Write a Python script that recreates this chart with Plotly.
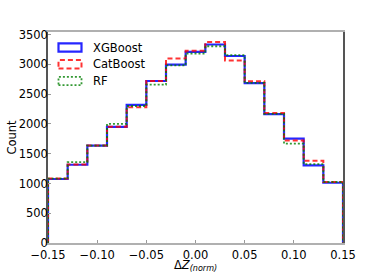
import numpy as np
import plotly.graph_objects as go

# ---- data ----
bin_edges = np.round(np.linspace(-0.15, 0.15, 16), 4)
series_names = ["XGBoost", "CatBoost", "RF"]
xgboost_counts = [1075, 1315, 1635, 1950, 2320, 2722, 2998, 3210, 3335, 3142, 2685, 2166, 1752, 1305, 1012]
catboost_counts = [1082, 1320, 1640, 1952, 2282, 2722, 3100, 3232, 3375, 3066, 2718, 2185, 1722, 1382, 1025]
rf_counts = [1080, 1358, 1636, 2000, 2302, 2660, 2985, 3184, 3306, 3156, 2690, 2170, 1670, 1325, 1025]
y_ticks = [0, 500, 1000, 1500, 2000, 2500, 3000, 3500]
x_ticks = [-0.15, -0.10, -0.05, 0.00, 0.05, 0.10, 0.15]

styles = [
    dict(color="rgba(0,0,255,0.85)", width=2.2, dash="solid"),
    dict(color="rgba(255,0,0,0.8)", width=2.0, dash="5px,3px"),
    dict(color="rgba(0,128,0,0.8)", width=1.8, dash="2px,2px"),
]

FONT = "DejaVu Sans"
FS = 11.5


def step_path(edges, counts):
    xs = [edges[0]] + list(edges[:-1]) + [edges[-1], edges[-1]]
    ys = [0] + list(counts) + [counts[-1], 0]
    return xs, ys


fig = go.Figure()
for name, counts, st in zip(series_names, [xgboost_counts, catboost_counts, rf_counts], styles):
    xs, ys = step_path(bin_edges, counts)
    fig.add_trace(go.Scatter(x=xs, y=ys, mode="lines", name=name,
                             line=dict(shape="hv", **st), showlegend=False,
                             hoverinfo="skip"))

# legend drawn as outlined boxes (matplotlib step-histogram style)
L, R, T, B = 48, 39, 32, 30
W, H = 382 - L - R, 273 - T - B
shapes, annotations = [], []
for i, (name, st) in enumerate(zip(series_names, styles)):
    cy = 47.5 + i * 16.75
    x0, x1 = (58.5 - L) / W, (81.5 - L) / W
    y0, y1 = (243 - (cy + 4.2)) / H, (243 - (cy - 4.2)) / H
    shapes.append(dict(type="rect", xref="paper", yref="paper", x0=x0, x1=x1, y0=y0, y1=y1,
                       line=dict(color=st["color"], width=st["width"], dash=st["dash"]),
                       fillcolor="rgba(0,0,0,0)"))
    annotations.append(dict(xref="paper", yref="paper", x=(91 - L) / W, y=(243 - cy) / H,
                            text=name, showarrow=False, xanchor="left", yanchor="middle",
                            font=dict(family=FONT, size=FS, color="black")))

fig.update_layout(
    width=382, height=273,
    margin=dict(l=L, r=R, t=T, b=B),
    paper_bgcolor="white", plot_bgcolor="white",
    font=dict(family=FONT, size=FS, color="black"),
    shapes=shapes, annotations=annotations,
    showlegend=False,
)
fig.update_xaxes(
    range=[-0.15, 0.15], tickvals=x_ticks,
    ticktext=[("\u2212" if v < 0 else "") + f"{abs(v):.2f}" for v in x_ticks],
    ticks="inside", ticklen=3, tickcolor="#999999", tickwidth=1,
    showline=True, linecolor="#b0b0b0", linewidth=2, mirror=True,
    showgrid=False, zeroline=False, automargin=False,
    title=dict(text="\u0394<i>Z</i><sub><i>(norm)</i></sub>", standoff=0,
               font=dict(family=FONT, size=FS)),
    tickfont=dict(family=FONT, size=FS),
)
fig.update_yaxes(
    range=[0, 3545], tickvals=y_ticks,
    ticks="inside", ticklen=3, tickcolor="#999999", tickwidth=1,
    showline=True, linecolor="#555555", linewidth=1.5, mirror=True,
    showgrid=False, zeroline=False, automargin=False,
    ticklabelstandoff=-4,
    title=dict(text="Count", standoff=0, font=dict(family=FONT, size=FS)),
    tickfont=dict(family=FONT, size=FS),
)

fig.write_html("out.html",
               config={"displayModeBar": False},
               post_script="document.body.style.margin='0';document.body.style.overflow='hidden';")
